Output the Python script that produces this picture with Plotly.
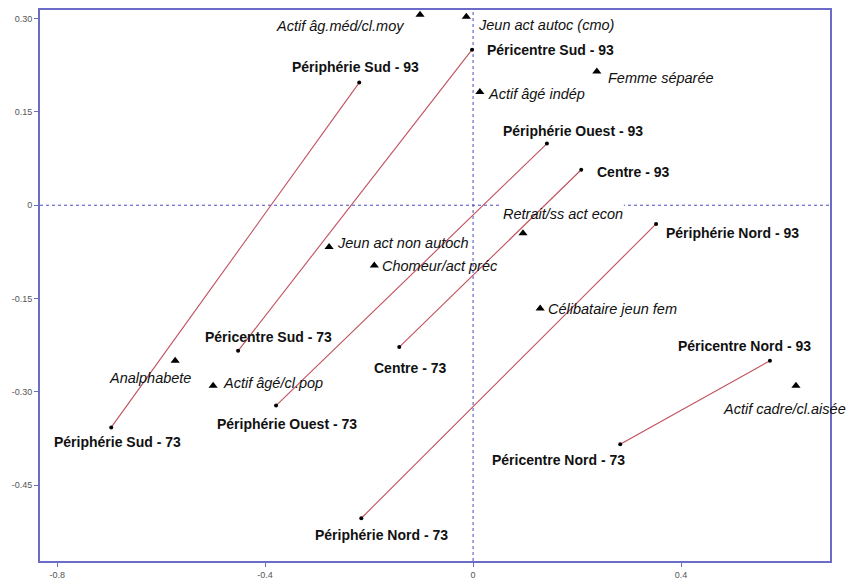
import plotly.graph_objects as go

# ---- data ----
regions = ["Périphérie Sud", "Péricentre Sud", "Périphérie Ouest", "Centre",
           "Périphérie Nord", "Péricentre Nord"]
x73 = [-0.696, -0.452, -0.379, -0.142, -0.215, 0.283]
y73 = [-0.357, -0.234, -0.322, -0.228, -0.503, -0.384]
x93 = [-0.219, -0.002, 0.142, 0.208, 0.352, 0.571]
y93 = [0.197, 0.250, 0.099, 0.057, -0.030, -0.250]

profiles = ["Actif âg.méd/cl.moy", "Jeun act autoc (cmo)", "Femme séparée",
            "Actif âgé indép", "Retrait/ss act econ", "Jeun act non autoch",
            "Chomeur/act préc", "Célibataire jeun fem", "Analphabete",
            "Actif âgé/cl.pop", "Actif cadre/cl.aisée"]
px = [-0.102, -0.013, 0.238, 0.013, 0.096, -0.277, -0.190, 0.129, -0.573, -0.500, 0.621]
py = [0.306, 0.303, 0.215, 0.182, -0.045, -0.067, -0.097, -0.166, -0.250, -0.290, -0.290]

xtick_vals = [-0.8, -0.4, 0, 0.4]
xtick_text = ["-0.8", "-0.4", "0", "0.4"]
ytick_vals = [0.30, 0.15, 0, -0.15, -0.30, -0.45]
ytick_text = ["0.30", "0.15", "0", "-0.15", "-0.30", "-0.45"]

# ---- label placement (style: anchor, dx px, dy px down) ----
lab73 = [("center", 6, 15), ("center", 30, -14), ("center", 11, 18), ("center", 11, 21),
         ("center", 20, 17), ("center", -62, 16)]
lab93 = [("center", -4, -16), ("left", 14, 0), ("center", 26, -13), ("left", 15, 2),
         ("left", 9, 9), ("center", -25, -15)]
labp = [("right", -15, 11), ("left", 11, 8), ("left", 10, 7), ("left", 7, 2),
        ("center", 40, -19), ("left", 7, -4), ("left", 7, 0), ("left", 7, 0),
        ("center", -25, 17), ("left", 9, -3), ("right", 51, 23)]

XR = [-0.833, 0.6865]
YR = [-0.5717, 0.3137]
AXIS = "#6b6bc8"
LINE = "#c0505c"
FONT = "Liberation Sans, Arial, sans-serif"

fig = go.Figure()

for i in range(len(regions)):
    fig.add_trace(go.Scatter(x=[x73[i], x93[i]], y=[y73[i], y93[i]], mode="lines+markers",
                             line=dict(color=LINE, width=1.1),
                             marker=dict(color="black", size=4),
                             showlegend=False, hoverinfo="skip"))

fig.add_trace(go.Scatter(x=px, y=py, mode="markers",
                         marker=dict(symbol="triangle-up", color="black", size=8),
                         showlegend=False, hoverinfo="skip"))

annotations = []
def add_label(x, y, text, spec, bold):
    anchor, dx, dy = spec
    annotations.append(dict(x=x, y=y, xref="x", yref="y", text=text, showarrow=False,
             xanchor=anchor, yanchor="middle", xshift=dx, yshift=-dy,
             font=dict(family=FONT, size=14 if bold else 14.5, color="#111",
                       weight="bold" if bold else "normal",
                       style="normal" if bold else "italic"),
             borderpad=0))

for i, r in enumerate(regions):
    add_label(x73[i], y73[i], f"{r} - 73", lab73[i], True)
    add_label(x93[i], y93[i], f"{r} - 93", lab93[i], True)
for i, p in enumerate(profiles):
    add_label(px[i], py[i], p, labp[i], False)

# the "Retrait" label box masks the horizontal zero line (below the traces)
ir = profiles.index("Retrait/ss act econ")
shapes = [
    dict(type="line", xref="x", yref="y", x0=XR[0], x1=XR[1], y0=0, y1=0,
         line=dict(color="#4a4ac0", width=1, dash="dot"), layer="below"),
    dict(type="line", xref="x", yref="y", x0=0, x1=0, y0=YR[0], y1=YR[1],
         line=dict(color="#4a4ac0", width=1, dash="dot"), layer="below"),
    dict(type="rect", xref="x", yref="y", x0=px[ir] - 0.046, x1=px[ir] + 0.194,
         y0=-0.006, y1=0.006, fillcolor="white", line=dict(width=0), layer="below"),
]

fig.update_layout(
    width=849, height=588, autosize=False,
    margin=dict(l=40, r=19, t=8, b=24),
    paper_bgcolor="white", plot_bgcolor="white",
    hovermode=False,
    annotations=annotations, shapes=shapes,
    xaxis=dict(range=XR, showgrid=False, zeroline=False, showline=True, mirror=True,
               linecolor=AXIS, linewidth=2, ticks="outside", ticklen=4, tickcolor=AXIS,
               tickvals=xtick_vals, ticktext=xtick_text,
               tickfont=dict(family=FONT, size=9, color="#555")),
    yaxis=dict(range=YR, showgrid=False, zeroline=False, showline=True, mirror=True,
               linecolor=AXIS, linewidth=2, ticks="outside", ticklen=4, tickcolor=AXIS,
               tickvals=ytick_vals, ticktext=ytick_text,
               tickfont=dict(family=FONT, size=9, color="#555")),
)

fig.write_html("out.html", config={"displayModeBar": False},
               post_script="document.body.style.margin='0';document.body.style.padding='0';")
